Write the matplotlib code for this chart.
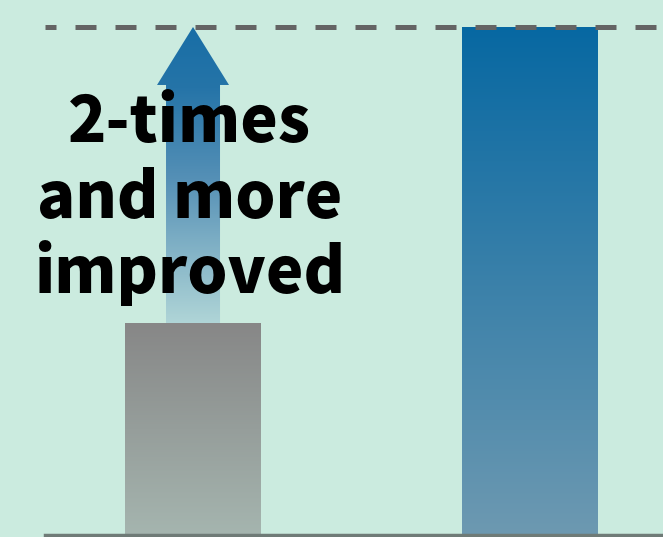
import numpy as np
import matplotlib.pyplot as plt
from matplotlib.colors import LinearSegmentedColormap
from matplotlib.patches import Polygon

# values (relative level, gray = before, blue = after)
categories = ['before', 'after']
values = [1.0, 2.4]
target = 2.4
label_lines = ["2-times", "and more", "improved"]

bg = '#cbebdf'
fig = plt.figure(figsize=(6.63, 5.37), dpi=100, facecolor=bg)
ax = fig.add_axes([0, 0, 1, 1], facecolor=bg)
ax.set_xlim(-0.5736, 1.3967)
ax.set_ylim(-0.0094, 2.5275)
ax.axis('off')

x = np.arange(len(categories))
width = 0.404
bars = ax.bar(x, values, width=width, color='none', zorder=2)

grads = [('#878787', '#a5b5af'), ('#0768a2', '#6d99b1')]
grad = np.linspace(0, 1, 256).reshape(-1, 1)
for b, (top, bottom) in zip(bars, grads):
    cmap = LinearSegmentedColormap.from_list('g', [top, bottom])
    bx, by = b.get_x(), b.get_y()
    im = ax.imshow(grad, cmap=cmap, aspect='auto', zorder=2,
                   extent=[bx, bx + b.get_width(), by, by + b.get_height()],
                   origin='upper')
    im.set_clip_path(b)

# dashed target line and baseline
ax.plot([-0.44, 1.3967], [target, target], color='#646464', lw=3.6,
        linestyle=(2.0, (4.2, 3.8)), dash_capstyle='butt', zorder=3)
ax.plot([-0.44, 1.3967], [0, 0], color='#6f7b77', lw=2.5, zorder=3)

# arrow from the gray bar up to the target level
ppu_x = 336.5
ppu_y = 211.7
shaft = 27 / ppu_x
head = 36 / ppu_x
y0 = values[0] - 9 / ppu_y
yh = target - 58 / ppu_y
arrow = Polygon([(x[0] - shaft, y0), (x[0] + shaft, y0), (x[0] + shaft, yh),
                 (x[0] + head, yh), (x[0], target), (x[0] - head, yh),
                 (x[0] - shaft, yh)], closed=True, facecolor='none',
                edgecolor='none', zorder=1)
ax.add_patch(arrow)
acmap = LinearSegmentedColormap.from_list(
    'a', [(0, '#186ea6'), (0.2, '#2574a8'), (0.5, '#5590b6'), (0.8, '#8fbccb'),
          (1.0, '#b5d9d9')])
im = ax.imshow(grad, cmap=acmap, aspect='auto', zorder=1, origin='upper',
               extent=[x[0] - head, x[0] + head, y0, target])
im.set_clip_path(arrow)

baselines = [1.856, 1.497, 1.143]
for line, yb in zip(label_lines, baselines):
    ax.text(x[0] - 0.009, yb, line, ha='center', va='baseline', fontsize=45.5,
            fontweight='black', family=['Noto Sans CJK JP', 'DejaVu Sans'],
            color='black', zorder=4)

plt.savefig('out.png', dpi=100, facecolor=bg)
